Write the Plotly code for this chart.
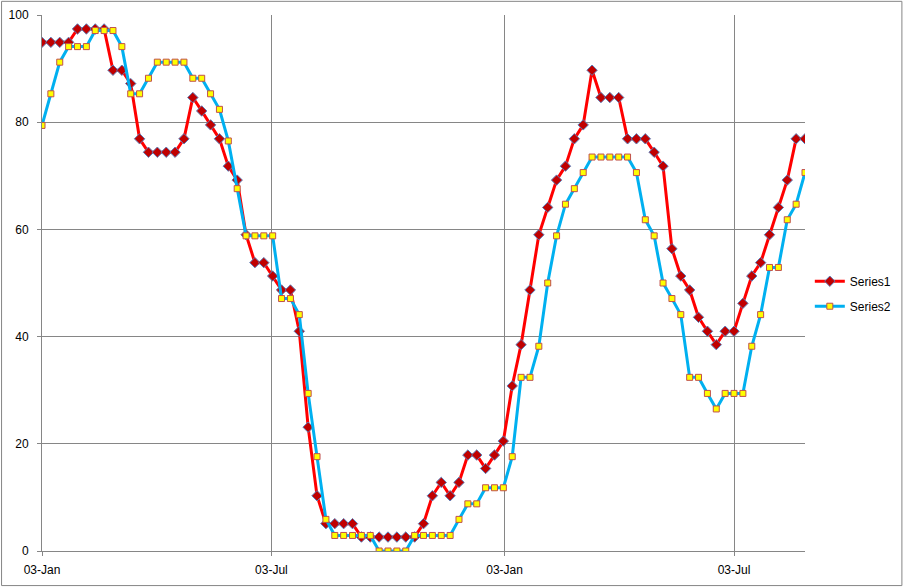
import pandas as pd
import plotly.graph_objects as go

# weekly readings, first one on 03-Jan
dates = pd.date_range("2010-01-03", periods=87, freq="7D")

series1 = [94.9, 94.9, 94.9, 94.9, 97.4, 97.4, 97.4, 97.4, 89.7, 89.7,
           87.2, 76.9, 74.4, 74.4, 74.4, 74.4, 76.9, 84.6, 82.1, 79.5,
           76.9, 71.8, 69.2, 59.0, 53.8, 53.8, 51.3, 48.7, 48.7, 41.0,
           23.1, 10.3, 5.1, 5.1, 5.1, 5.1, 2.6, 2.6, 2.6, 2.6,
           2.6, 2.6, 2.6, 5.1, 10.3, 12.8, 10.3, 12.8, 17.9, 17.9,
           15.4, 17.9, 20.5, 30.8, 38.5, 48.7, 59.0, 64.1, 69.2, 71.8,
           76.9, 79.5, 89.7, 84.6, 84.6, 84.6, 76.9, 76.9, 76.9, 74.4,
           71.8, 56.4, 51.3, 48.7, 43.6, 41.0, 38.5, 41.0, 41.0, 46.2,
           51.3, 53.8, 59.0, 64.1, 69.2, 76.9, 76.9]

series2 = [79.4, 85.3, 91.2, 94.1, 94.1, 94.1, 97.1, 97.1, 97.1, 94.1,
           85.3, 85.3, 88.2, 91.2, 91.2, 91.2, 91.2, 88.2, 88.2, 85.3,
           82.4, 76.5, 67.6, 58.8, 58.8, 58.8, 58.8, 47.1, 47.1, 44.1,
           29.4, 17.6, 5.9, 2.9, 2.9, 2.9, 2.9, 2.9, 0.0, 0.0,
           0.0, 0.0, 2.9, 2.9, 2.9, 2.9, 2.9, 5.9, 8.8, 8.8,
           11.8, 11.8, 11.8, 17.6, 32.4, 32.4, 38.2, 50.0, 58.8, 64.7,
           67.6, 70.6, 73.5, 73.5, 73.5, 73.5, 73.5, 70.6, 61.8, 58.8,
           50.0, 47.1, 44.1, 32.4, 32.4, 29.4, 26.5, 29.4, 29.4, 29.4,
           38.2, 44.1, 52.9, 52.9, 61.8, 64.7, 70.6]

tick_dates = ["2010-01-03", "2010-07-03", "2011-01-03", "2011-07-03"]
tick_labels = ["03-Jan", "03-Jul", "03-Jan", "03-Jul"]

grid = "#868686"

fig = go.Figure()
fig.add_trace(go.Scatter(
    x=dates, y=series1, name="Series1", mode="lines+markers",
    legendgroup="a",
    line=dict(color="#FF0000", width=3),
    marker=dict(symbol="diamond", size=8, color="#C00000",
                line=dict(color="#5B7DB8", width=1)),
))
fig.add_trace(go.Scatter(
    x=dates, y=series2, name="Series2", mode="lines+markers",
    legendgroup="b",
    line=dict(color="#00B0F0", width=3),
    marker=dict(symbol="square", size=6, color="#FFFF00",
                line=dict(color="#C0504D", width=1)),
))

fig.update_layout(
    width=908, height=587,
    margin=dict(l=42, r=102, t=15, b=36),
    paper_bgcolor="white", plot_bgcolor="white",
    font=dict(family="Liberation Sans, Arial, sans-serif", size=12, color="#000000"),
    legend=dict(x=1.005, y=0.48, xanchor="left", yanchor="middle",
                tracegroupgap=6, traceorder="grouped",
                font=dict(size=12)),
    xaxis=dict(range=["2010-01-03", "2011-08-28"],
               tickvals=tick_dates, ticktext=tick_labels,
               showgrid=True, gridcolor=grid, gridwidth=1,
               showline=True, linecolor=grid, linewidth=1,
               ticks="outside", ticklen=4, tickcolor=grid,
               ticklabelstandoff=4, automargin=False, zeroline=False),
    yaxis=dict(range=[0, 100], dtick=20,
               showgrid=True, gridcolor=grid, gridwidth=1,
               showline=True, linecolor=grid, linewidth=1,
               ticks="outside", ticklen=4, tickcolor=grid,
               ticklabelstandoff=6, automargin=False, zeroline=False),
    shapes=[dict(type="rect", xref="paper", yref="paper",
                 x0=-0.053, x1=1.127, y0=-0.0645, y1=1.0255,
                 line=dict(color=grid, width=1), layer="below")],
)

# drop the default page margin so the chart sits at the window corner
fig.write_html("out.html", config={"displayModeBar": False},
               post_script="document.body.style.margin='0';")
